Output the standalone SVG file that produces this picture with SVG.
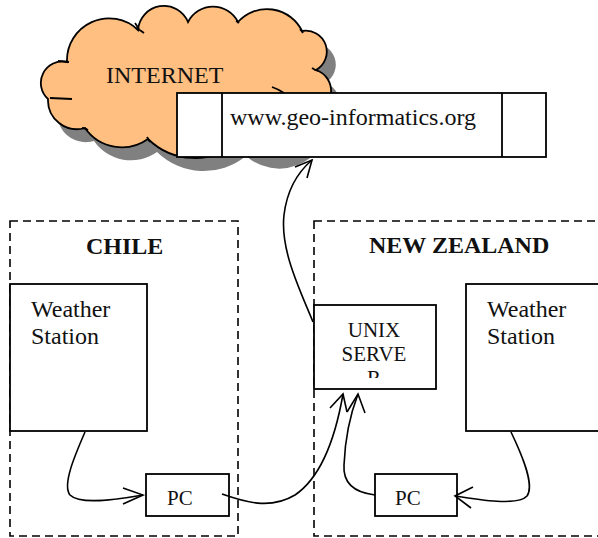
<svg xmlns="http://www.w3.org/2000/svg" width="598" height="538" viewBox="0 0 598 538">
<defs>
<style>
text{font-family:"Liberation Serif","Times New Roman",serif;fill:#111}
.box{fill:#fff;stroke:#000;stroke-width:1.8}
.dash{fill:none;stroke:#000;stroke-width:1.6;stroke-dasharray:8 5}
.con{fill:none;stroke:#000;stroke-width:1.6}
.tick{fill:none;stroke:#000;stroke-width:1.8}
.t24{font-size:24px}
.t21{font-size:21px}
.b{font-weight:bold}
</style>
<path id="cloudShape" d="M67,62 A42,42 0 0 1 138,30 A26,26 0 0 1 188,22 A28,28 0 0 1 238,22 A39,39 0 0 1 302,31 A21,21 0 0 1 316,70 A22,22 0 0 1 320,110 A50,50 0 0 1 237,143 A67,67 0 0 1 148,139 A45,45 0 0 1 85,128 A29,29 0 0 1 48,99 A21.5,21.5 0 0 1 67,62 Z"/>
<clipPath id="unixClip"><rect x="314" y="305" width="122" height="73"/></clipPath>
</defs>

<g id="internet">
<use href="#cloudShape" transform="translate(9,13)" fill="#808080"/>
<use href="#cloudShape" fill="#FFBF80" stroke="#000" stroke-width="1.8"/>
<path class="tick" d="M58,61 L69,62 M50,98 L72,99 M136,28 Q140,30 144,33 M135,23 Q137,26 139,29 M236,21 Q238,22 239,23 M300,29 Q302,31 303,33 M312,68 Q315,70 318,71 M272,87 Q278,89 284,93 M147,137 Q148,139 150,142 M82,128 Q85,128 88,130"/>
<text class="t24" x="106" y="83">INTERNET</text>
</g>

<g id="website">
<rect class="box" x="177" y="93" width="369" height="64"/>
<line x1="222" y1="93" x2="222" y2="157" stroke="#000" stroke-width="1.8"/>
<line x1="502" y1="93" x2="502" y2="157" stroke="#000" stroke-width="1.8"/>
<text class="t24" x="230" y="125">www.geo-informatics.org</text>
</g>

<g id="chile">
<rect class="dash" x="10" y="221" width="228" height="315"/>
<text class="t24 b" x="86" y="254">CHILE</text>
</g>

<g id="new-zealand">
<rect class="dash" x="314" y="221" width="300" height="315"/>
<text class="t24 b" x="369" y="253">NEW ZEALAND</text>
</g>

<g id="chile-weather-station">
<rect class="box" x="10" y="284" width="137" height="147"/>
<text class="t24" x="31" y="317">Weather</text>
<text class="t24" x="31" y="344">Station</text>
</g>

<g id="chile-pc">
<rect class="box" x="146" y="474" width="83" height="42"/>
<text class="t21" x="167" y="505">PC</text>
</g>

<g id="unix-server">
<rect class="box" x="314" y="305" width="122" height="84"/>
<g clip-path="url(#unixClip)" text-anchor="middle">
<text class="t21" x="374" y="337">UNIX</text>
<text class="t21" x="374" y="361">SERVE</text>
<text class="t21" x="374" y="385">R</text>
</g>
</g>

<g id="nz-weather-station">
<rect class="box" x="466" y="284" width="140" height="147"/>
<text class="t24" x="487" y="317">Weather</text>
<text class="t24" x="487" y="344">Station</text>
</g>

<g id="nz-pc">
<rect class="box" x="375" y="474" width="82" height="42"/>
<text class="t21" x="395" y="505">PC</text>
</g>

<g id="connectors">
<path class="con" d="M85,432 C75,455 62,485 70,495 C80,505 115,500 143,495"/>
<path class="con" d="M123,488 L143,495 L123,504"/>
<path class="con" d="M222,494 C245,502 270,510 295,495 C320,478 335,440 343,394"/>
<path class="con" d="M330,408 L343,394 L347,412"/>
<path class="con" d="M375,495 C350,492 343,480 344,465 C345,440 350,415 358,394"/>
<path class="con" d="M347,412 L358,394 L365,413"/>
<path class="con" d="M511,432 C522,455 535,485 527,496 C518,506 480,500 455,496"/>
<path class="con" d="M473,487 L455,496 L471,508"/>
<path class="con" d="M313,322 C300,290 280,250 284,215 C287,190 298,172 312,160"/>
<path class="con" d="M295,167 L312,160 L307,178"/>
</g>
</svg>
